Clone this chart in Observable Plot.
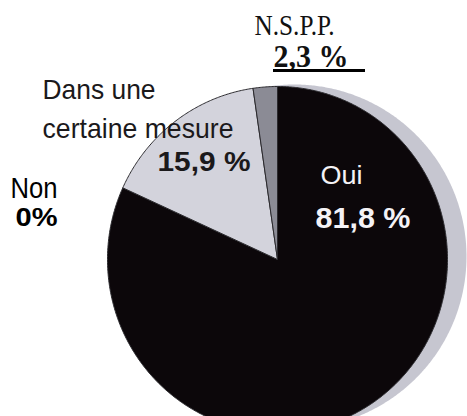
<!DOCTYPE html>
<html>
<head>
<meta charset="utf-8">
<script src="https://cdn.jsdelivr.net/npm/d3@7"></script>
<script src="https://cdn.jsdelivr.net/npm/@observablehq/plot@0.6"></script>
<style>
  html, body { margin: 0; padding: 0; background: #ffffff; }
  #chart svg { display: block; }
</style>
</head>
<body>
<div id="chart"></div>
<script>
// ---- data ----
const categories = ["Oui", "Dans une certaine mesure", "N.S.P.P.", "Non"];
const values = [81.8, 15.9, 2.3, 0];
const valueLabels = ["81,8 %", "15,9 %", "2,3 %", "0%"];
const sliceColors = ["#0c070a", "#d3d3dc", "#8b8b95", "#ffffff"];

// ---- layout ----
const W = 467, H = 416;
const CX = 277, CY = 259, RX = 170, RY = 173;   // pie centre / radii in pixels
const shadowCentre = [17 / RX, 3 / RY];          // offset in pie-radius units (right, up)
const shadowRadii = [172 / RX, 172 / RY];

const data = categories.map((c, i) => ({category: c, value: values[i]}));
const arcs = d3.pie().sort(null).value(d => d.value)(data);

// polygon points (unit radius) for each slice
const slicePts = [];
for (const a of arcs) {
  if (a.endAngle - a.startAngle <= 0) continue;
  const key = a.data.category;
  slicePts.push({key, x: 0, y: 0});
  const n = Math.max(2, Math.ceil((a.endAngle - a.startAngle) / (Math.PI / 360)));
  for (let k = 0; k <= n; k++) {
    const t = a.startAngle + (a.endAngle - a.startAngle) * k / n;
    slicePts.push({key, x: Math.sin(t), y: Math.cos(t)});
  }
  slicePts.push({key, x: 0, y: 0});
}
const shadowPts = d3.range(0, 721).map(k => {
  const t = k / 720 * 2 * Math.PI;
  return {x: shadowCentre[0] + shadowRadii[0] * Math.sin(t), y: shadowCentre[1] + shadowRadii[1] * Math.cos(t)};
});

const sans = "'Liberation Sans', Arial, sans-serif";
const serif = "'Liberation Serif', 'Times New Roman', serif";
const dark = "#1b191b";

// label layout (pixels): left x, baseline y, font, size, weight, fill, target width
const labels = [
  {text: "N.S.P.P.", x: 254, y: 34, font: serif, size: 30, weight: "normal", fill: "#111", w: 80},
  {text: valueLabels[2], x: 273, y: 66, font: serif, size: 32, weight: "bold", fill: "#111", w: 75},
  {text: "Dans une", x: 42, y: 98, font: sans, size: 28, weight: "normal", fill: dark, w: 113},
  {text: "certaine mesure", x: 42, y: 137, font: sans, size: 28, weight: "normal", fill: dark, w: 191},
  {text: valueLabels[1], x: 157, y: 170, font: sans, size: 28, weight: "bold", fill: dark, w: 93},
  {text: "Non", x: 10, y: 197, font: sans, size: 30, weight: "normal", fill: "#000", w: 47},
  {text: valueLabels[3], x: 15, y: 225, font: sans, size: 25, weight: "bold", fill: "#000", w: 42},
  {text: "Oui", x: 320, y: 183, font: sans, size: 26, weight: "normal", fill: "#f4f2f6", w: 42},
  {text: valueLabels[0], x: 315, y: 227, font: sans, size: 30, weight: "bold", fill: "#f4f2f6", w: 95}
];

const plot = Plot.plot({
  width: W,
  height: H,
  margin: 0,
  style: {background: "#ffffff", overflow: "visible"},
  x: {domain: [-CX / RX, (W - CX) / RX], range: [0, W], axis: null},
  y: {domain: [(CY - H) / RY, CY / RY], range: [H, 0], axis: null},
  color: {domain: categories, range: sliceColors},
  marks: [
    Plot.line(shadowPts, {x: "x", y: "y", fill: "#c6c6d0", stroke: "none"}),
    Plot.line(slicePts, {x: "x", y: "y", z: "key", fill: "key", stroke: "#2b2a2e", strokeWidth: 1, strokeLinejoin: "round"}),
    ...labels.map(l => Plot.text([l], {
      text: "text",
      frameAnchor: "top-left",
      dx: l.x, dy: l.y,
      textAnchor: "start",
      lineAnchor: "bottom",
      fontFamily: l.font,
      fontSize: l.size,
      fontWeight: l.weight,
      fill: l.fill
    })),
    Plot.ruleY([0], {
      x1: (273 - CX) / RX, x2: (365 - CX) / RX,
      y: (CY - 70) / RY,
      stroke: "#000", strokeWidth: 3
    })
  ]
});

// match each label's width to the reference
plot.querySelectorAll("text").forEach(t => {
  const l = labels.find(d => d.text === t.textContent);
  if (l) {
    t.setAttribute("textLength", l.w);
    t.setAttribute("lengthAdjust", "spacingAndGlyphs");
  }
});

document.getElementById("chart").appendChild(plot);
</script>
</body>
</html>
